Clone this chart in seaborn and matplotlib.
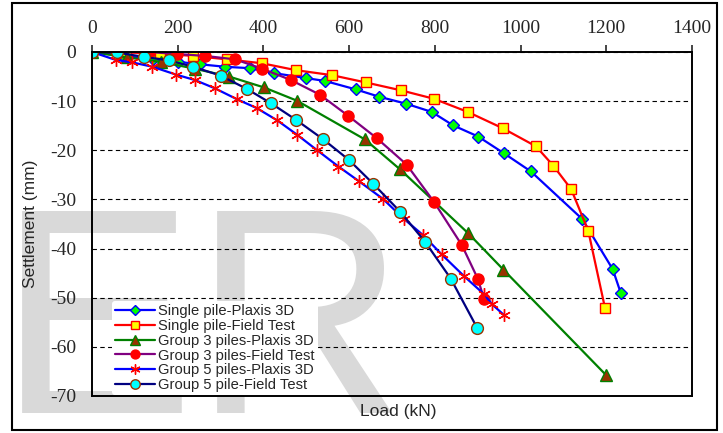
import matplotlib
matplotlib.use('Agg')
import matplotlib.pyplot as plt
from matplotlib.patches import Rectangle
import seaborn as sns

# Datos
single_plaxis_load = [0, 72, 143, 201, 252, 310, 369, 425, 499, 544, 615, 670, 732, 793, 842, 901, 961, 1024, 1144, 1215, 1234]
single_plaxis_sett = [0, -0.8, -1.5, -2.0, -2.5, -3.0, -3.3, -4.3, -5.3, -5.9, -7.6, -9.1, -10.5, -12.2, -14.9, -17.2, -20.6, -24.3, -34.0, -44.2, -49.1]

single_field_load = [0, 79, 159, 236, 316, 397, 476, 559, 639, 721, 797, 877, 958, 1036, 1076, 1118, 1158, 1197]
single_field_sett = [0, -0.1, -0.3, -0.8, -1.5, -2.3, -3.7, -4.7, -6.2, -7.8, -9.5, -12.2, -15.5, -19.2, -23.1, -27.9, -36.4, -52.1]

group3_plaxis_load = [0, 81, 160, 240, 320, 401, 478, 637, 719, 878, 960, 1199]
group3_plaxis_sett = [0, -1.1, -2.0, -3.4, -5.0, -7.2, -9.9, -17.8, -23.9, -36.9, -44.3, -65.7]

group3_field_load = [0, 132, 198, 264, 334, 397, 464, 532, 598, 664, 734, 798, 863, 900, 915]
group3_field_sett = [0, 0, -0.4, -0.8, -1.5, -3.4, -5.7, -8.7, -13.0, -17.5, -22.9, -30.5, -39.3, -46.1, -50.3]

group5_plaxis_load = [0, 55, 93, 141, 196, 240, 287, 338, 384, 432, 478, 524, 575, 623, 679, 727, 773, 816, 868, 915, 933, 961]
group5_plaxis_sett = [0, -1.6, -2.1, -3.0, -4.6, -5.7, -7.4, -9.6, -11.4, -13.9, -16.8, -19.9, -23.3, -26.3, -29.9, -33.9, -37.3, -41.2, -45.6, -49.3, -51.3, -53.5]

group5_field_load = [0, 58, 121, 179, 236, 300, 361, 417, 476, 540, 600, 656, 719, 777, 837, 899]
group5_field_sett = [0, -0.1, -1.0, -1.7, -3.0, -4.8, -7.5, -10.4, -13.8, -17.8, -22.0, -26.8, -32.5, -38.6, -46.1, -56.2]

x_ticks = [0, 200, 400, 600, 800, 1000, 1200, 1400]
y_ticks = [0, -10, -20, -30, -40, -50, -60, -70]

series = [
    ('Single pile-Plaxis 3D', single_plaxis_load, single_plaxis_sett,
     dict(color='#0000FF', marker='D', markerfacecolor='#00FF00', markeredgecolor='#0000FF', markersize=6.5)),
    ('Single pile-Field Test', single_field_load, single_field_sett,
     dict(color='#FF0000', marker='s', markerfacecolor='#FFFF00', markeredgecolor='#FF0000', markersize=6.5)),
    ('Group 3 piles-Plaxis 3D', group3_plaxis_load, group3_plaxis_sett,
     dict(color='#008000', marker='^', markerfacecolor='#993300', markeredgecolor='#008000', markersize=9)),
    ('Group 3 piles-Field Test', group3_field_load, group3_field_sett,
     dict(color='#800080', marker='o', markerfacecolor='#FF0000', markeredgecolor='#FF0000', markersize=8)),
    ('Group 5 piles-Plaxis 3D', group5_plaxis_load, group5_plaxis_sett,
     dict(color='#0000FF', marker=(6, 2, 0), markerfacecolor='#FF0000', markeredgecolor='#FF0000', markersize=9)),
    ('Group 5 pile-Field Test', group5_field_load, group5_field_sett,
     dict(color='#000080', marker='o', markerfacecolor='#00FFFF', markeredgecolor='#993300', markersize=8.5)),
]

sns.set_style('white')
plt.rcParams['font.family'] = ['Liberation Sans', 'DejaVu Sans']
plt.rcParams['font.serif'] = ['Liberation Serif', 'Nimbus Roman', 'Times New Roman', 'DejaVu Serif']
plt.rcParams['axes.unicode_minus'] = False

fig = plt.figure(figsize=(7.23, 4.33), dpi=100)
ax = fig.add_axes([92/723, 1 - 396/433, 600/723, 344/433])
ax.set_facecolor('none')

# Marca de agua "ER"
fig.text(-2/723, 1 - 413/433, 'E', fontsize=212, color='#d9d9d9', family='Liberation Sans',
         ha='left', va='baseline', zorder=-5)
fig.text(193/723, 1 - 413/433, 'R', fontsize=212, color='#d9d9d9', family='Liberation Sans',
         ha='left', va='baseline', zorder=-5)

for name, xs, ys, style in series:
    sns.lineplot(x=xs, y=ys, ax=ax, sort=False, estimator=None, label=name,
                 linewidth=1.6, markeredgewidth=1.0, **style)

ax.set_xlim(0, 1400)
ax.set_ylim(-70, 0)
ax.set_xticks(x_ticks)
ax.set_yticks(y_ticks)
ax.set_xticklabels([str(v) for v in x_ticks], family='serif', fontsize=14)
ax.set_yticklabels([str(v) for v in y_ticks], family='serif', fontsize=14)
ax.xaxis.tick_top()
ax.xaxis.set_label_position('bottom')
ax.tick_params(axis='x', direction='out', length=5, width=1.2, pad=6)
ax.tick_params(axis='y', direction='out', length=5, width=1.2, pad=6.5)

for sp in ax.spines.values():
    sp.set_color('black')
    sp.set_linewidth(1.4)

ax.yaxis.grid(True, color='black', linestyle=(0, (4, 3)), linewidth=0.8)
ax.xaxis.grid(False)

ax.set_xlabel('Load (kN)', fontsize=12.5)
ax.set_ylabel('Settlement (mm)', fontsize=12.5)
ax.xaxis.set_label_coords(0.51, -0.022)
ax.xaxis.label.set_va('top')
ax.yaxis.set_label_coords(-0.09, 0.5)

leg = ax.legend(loc='upper left', bbox_to_anchor=(20/600, 1 - 249/344), fontsize=10.6,
                frameon=True, facecolor='white', edgecolor='none', framealpha=1,
                handlelength=2.75, handletextpad=0.2, labelspacing=0.06, borderpad=0.2,
                borderaxespad=0, markerscale=0.8)

# Marco exterior
fig.patches.append(Rectangle((12/723, 3/433), 705/723, 427/433, transform=fig.transFigure,
                             fill=False, edgecolor='black', linewidth=1.5, zorder=10))

plt.savefig('out.png', dpi=100)
plt.close()
